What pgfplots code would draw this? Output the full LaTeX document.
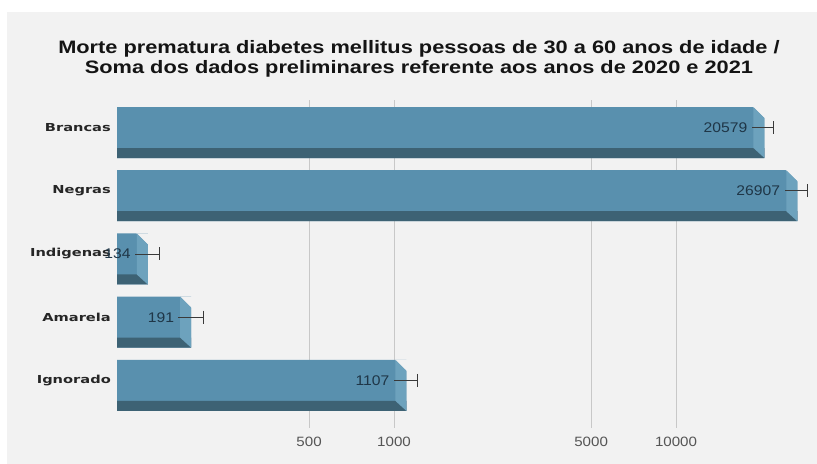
\documentclass[border=0pt]{standalone}
\usepackage{pgfplots}
\pgfplotsset{compat=1.18}
\usepackage{pgfplotstable}
\usepackage{fontspec}
\setmainfont{Liberation Sans}
\newfontfamily\catfont{DejaVu Sans}[FakeStretch=1.33]
\newfontfamily\tickfont{Liberation Sans}[FakeStretch=1.12]
\newfontfamily\titlefont{Liberation Sans}[FakeStretch=1.21]
\definecolor{bgc}{HTML}{F2F2F2}
\definecolor{mainc}{HTML}{5990AE}
\definecolor{darkc}{HTML}{3D6274}
\definecolor{sidec}{HTML}{6DA2BD}
\definecolor{gridc}{HTML}{C8C8C8}
\definecolor{errc}{HTML}{3A3A3A}
\definecolor{valc}{HTML}{1F3647}
\definecolor{tickc}{HTML}{555555}
\pgfdeclareplotmark{side3d}{%
  \pgfpathmoveto{\pgfpoint{-11.5bp}{20.5bp}}%
  \pgfpathlineto{\pgfpoint{0.6bp}{20.6bp}}%
  \pgfpathlineto{\pgfpoint{0.6bp}{9.0bp}}%
  \pgfpathclose
  \pgfsetfillcolor{bgc}\pgfusepath{fill}%
  \pgfpathmoveto{\pgfpoint{-11bp}{20.5bp}}%
  \pgfpathlineto{\pgfpoint{0bp}{9.5bp}}%
  \pgfpathlineto{\pgfpoint{0bp}{-30.5bp}}%
  \pgfpathlineto{\pgfpoint{-11bp}{-20.5bp}}%
  \pgfpathclose
  \pgfsetfillcolor{sidec}\pgfusepath{fill}%
  \pgfpathmoveto{\pgfpoint{-12bp}{0bp}}%
  \pgfpathlineto{\pgfpoint{0.5bp}{0bp}}%
  \pgfsetlinewidth{0.9bp}\pgfsetstrokecolor{errc}\pgfusepath{stroke}%
}
\pgfplotstableread{
y v e
4 20579 1570
3 26907 2290
2 134 13.8
1 191 19.7
0 1107 104
}\datatable
\begin{document}
\begin{tikzpicture}
\path[use as bounding box] (0,0) rectangle (817bp,464bp);
\fill[white] (0,0) rectangle (817bp,464bp);
\fill[bgc] (7bp,0) rectangle (817bp,452bp);
\node[align=center, font=\titlefont\bfseries\fontsize{18bp}{20bp}\selectfont, text=black!92] at (419bp,405bp)
  {Morte prematura diabetes mellitus pessoas de 30 a 60 anos de idade /\\Soma dos dados preliminares referente aos anos de 2020 e 2021};
\begin{axis}[
  at={(117bp,36bp)}, anchor=south west,
  scale only axis, width=698bp, height=328bp,
  xmode=log, xmin=104.2, xmax=31100, log origin x=infty,
  ymin=-0.752, ymax=4.435,
  axis line style={draw=none},
  tick style={draw=none},
  xmajorgrids, grid style={gridc, line width=1bp},
  xtick={500,1000,5000,10000},
  xticklabels={500,1000,5000,10000},
  xticklabel style={anchor=center, yshift=-14bp, inner sep=0pt, font=\tickfont\fontsize{13.5bp}{15bp}\selectfont, text=tickc},
  ytick={0,1,2,3,4},
  yticklabels={Ignorado,Amarela,Indigenas,Negras,Brancas},
  yticklabel style={anchor=east, xshift=-6bp, inner sep=0pt, font=\catfont\bfseries\fontsize{11bp}{13bp}\selectfont, text=black!85},
  clip=false,
]
\addplot[xbar, bar width=51bp, bar shift=-5bp, fill=mainc, draw=none] table[x=v, y=y]{\datatable};
\addplot[xbar, bar width=10bp, bar shift=-25.5bp, fill=darkc, draw=none] table[x=v, y=y]{\datatable};
\addplot[only marks, mark=side3d] table[x=v, y=y]{\datatable};
\addplot[draw=none, mark=none,
  error bars/.cd, x dir=both, x explicit, error mark=none,
  error bar style={draw=errc, line width=0.9bp}]
  table[x=v, y=y, x error=e]{\datatable};
\addplot[draw=none, mark=none,
  error bars/.cd, x dir=plus, x explicit, error mark=|,
  error bar style={draw=errc, line width=0.9bp},
  error mark options={draw=errc, line width=0.9bp, mark size=6.5bp}]
  table[x=v, y=y, x error=e]{\datatable};
\addplot[only marks, mark=none, point meta=explicit symbolic,
  nodes near coords={\pgfplotspointmeta},
  every node near coord/.style={anchor=east, xshift=-17bp, inner sep=0pt, text=valc, font=\tickfont\fontsize{14bp}{15bp}\selectfont}]
  table[x=v, y=y, meta=v]{\datatable};
\end{axis}
\end{tikzpicture}
\end{document}
